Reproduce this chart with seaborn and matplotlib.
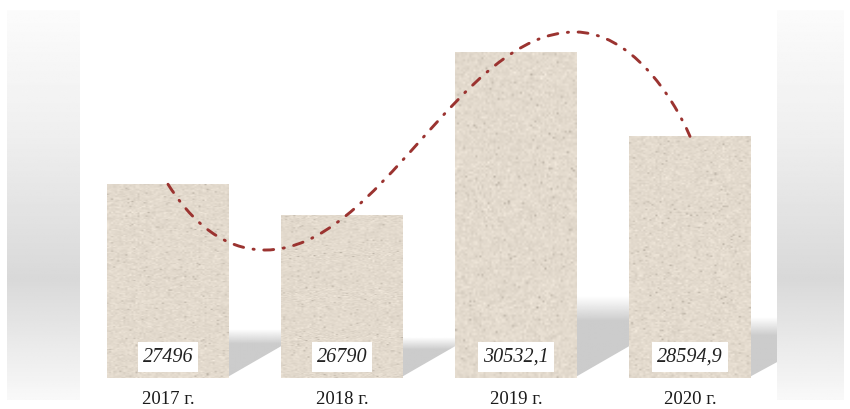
import numpy as np
import matplotlib
matplotlib.use('Agg')
import matplotlib.pyplot as plt
import seaborn as sns
from matplotlib.path import Path
from matplotlib.patches import PathPatch, Polygon

# --- Data ---
years = ['2017 г.', '2018 г.', '2019 г.', '2020 г.']
values = [27496, 26790, 30532.1, 28594.9]
value_labels = ['27496', '26790', '30532,1', '28594,9']

# hand-drawn trend curve: bezier nodes (category position, value)
curve_x = [0, 0.184, 0.385, 0.557, 1.218, 1.678, 2.339, 2.655, 2.897, 3]
curve_y = [27496, 26331, 25986, 25986, 25986, 30991, 30991, 30991, 29545, 28594.9]

y_base = 23048
y_top = 31496

sns.set_theme(style='white')
plt.rcParams['font.family'] = ['Liberation Serif', 'DejaVu Serif']

fig = plt.figure(figsize=(8.5, 4.09), dpi=100)
fig.patch.set_facecolor('white')

# --- background side bands (pixel coords) ---
bg = fig.add_axes([0, 0, 1, 1], zorder=0)
bg.set_xlim(0, 850)
bg.set_ylim(409, 0)
bg.axis('off')
t = np.linspace(0, 1, 200)
shade = np.interp(t, [0, 0.3, 0.69, 1], [0.985, 0.94, 0.85, 0.975])
band = np.repeat(shade[:, None], 2, axis=1)
for left, right in [(7, 80), (777, 844)]:
    bg.imshow(band, cmap='gray', vmin=0, vmax=1, extent=(left, right, 400, 10),
              aspect='auto', interpolation='bilinear')
bg.set_xlim(0, 850)
bg.set_ylim(409, 0)

# --- main axes ---
ax = fig.add_axes([0, 31 / 409, 1, 368 / 409], zorder=1)
ax.patch.set_alpha(0)

sns.barplot(x=years, y=values, color='#e3dacd', width=0.7, saturation=1,
            linewidth=0, ax=ax)

# sandy texture on bars
rng = np.random.default_rng(7)
base_rgb = np.array([0.890, 0.855, 0.805])
for p in ax.patches:
    x0, w, h = p.get_x(), p.get_width(), p.get_height()
    noise = rng.normal(0, 1, (160, 60))
    tex = base_rgb[None, None, :] + 0.022 * noise[..., None]
    speck = rng.random((160, 60)) > 0.985
    tex[speck] -= 0.12
    tex = np.clip(tex, 0, 1)
    im = ax.imshow(tex, extent=(x0, x0 + w, y_base, h), aspect='auto',
                   interpolation='bilinear', zorder=2)
    im.set_clip_path(p)

# soft shadows to the right of bars
for i, v in enumerate(values):
    x0 = i + 0.35
    x1 = min(i + 0.65, 3.5)
    frac = (x1 - x0) / 0.3
    top = y_base + 0.25 * (v - y_base)
    rows = np.linspace(0, 1, 100)
    alpha = np.clip(rows / 0.3, 0, 1)
    img = np.zeros((100, 2, 4))
    img[..., :3] = 0.80
    img[..., 3] = alpha[:, None]
    poly = Polygon([(x0, top), (x1, top), (x1, y_base + 730 * frac), (x0, y_base + 40)],
                   closed=True, transform=ax.transData, fc='none', ec='none')
    ax.add_patch(poly)
    sh = ax.imshow(img, extent=(x0, x1, y_base, top), aspect='auto',
                   interpolation='bilinear', zorder=0.5)
    sh.set_clip_path(poly)

# trend curve
codes = [Path.MOVETO] + [Path.CURVE4] * (len(curve_x) - 1)
path = Path(list(zip(curve_x, curve_y)), codes)
ax.add_patch(PathPatch(path, fill=False, edgecolor='#9b3330', lw=2.1,
                       linestyle=(0, (3.4, 3.3, 0.4, 3.3)), capstyle='round', zorder=4))

# value labels in white boxes
for i, lab in enumerate(value_labels):
    ax.text(i, 0.057, lab, transform=ax.get_xaxis_transform(), ha='center', va='center',
            fontsize=14.5, fontstyle='italic', color='#222222',
            bbox=dict(boxstyle='square,pad=0.25', fc='white', ec='none'), zorder=5)

ax.set_ylim(y_base, y_top)
ax.set_xlim(-168 / 174, 682 / 174)
ax.set_yticks([])
ax.set_xlabel('')
ax.set_ylabel('')
for s in ax.spines.values():
    s.set_visible(False)
ax.tick_params(axis='x', length=0, pad=9.5, labelsize=13.5, labelcolor='#1a1a1a')

fig.savefig('out.png', dpi=100)
